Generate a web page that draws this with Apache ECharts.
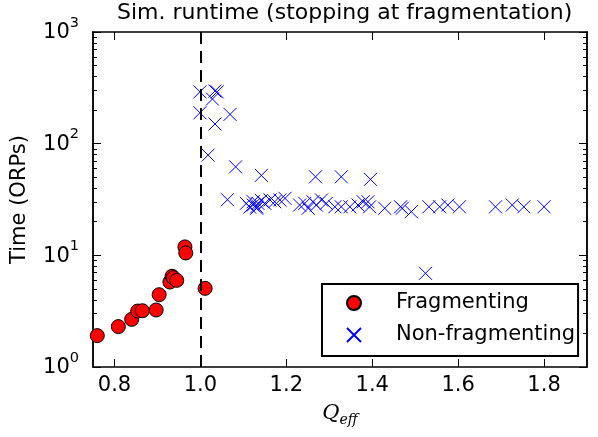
<!DOCTYPE html>
<html><head><meta charset="utf-8">
<script src="https://cdn.jsdelivr.net/npm/echarts@6/dist/echarts.min.js"></script>
<style>html,body{margin:0;padding:0;background:#fff}#c{width:598px;height:437px}</style>
</head><body><div id="c"></div>
<script>
// ---- data ----
const fragQ = [0.760, 0.809, 0.840, 0.854, 0.865, 0.897, 0.904, 0.929, 0.934, 0.937, 0.945, 0.964, 0.966, 1.011];
const fragT = [1.91, 2.30, 2.67, 3.17, 3.19, 3.24, 4.44, 5.77, 6.5, 6.3, 5.97, 11.9, 10.5, 5.06];

const nonQ = [0.999, 1.034, 1.039, 1.028, 0.999, 1.034, 1.069, 1.018, 1.082, 1.142, 1.063, 1.268, 1.328, 1.396,
  1.107, 1.115, 1.123, 1.123, 1.131, 1.131, 1.134, 1.142, 1.150, 1.162, 1.173, 1.185, 1.197, 1.231, 1.243, 1.251,
  1.262, 1.270, 1.282, 1.293, 1.313, 1.328, 1.348, 1.367, 1.379, 1.390, 1.394, 1.429, 1.466, 1.470, 1.491, 1.532,
  1.557, 1.576, 1.603, 1.687, 1.726, 1.753, 1.800, 1.524];
const nonT = [291, 296, 291, 251, 189, 150, 183, 79, 62, 52, 31.5, 50.5, 50.5, 47.9,
  29.2, 27.0, 30.2, 28.2, 27.2, 26.4, 29.2, 31.0, 29.2, 31.3, 30.2, 31.3, 32.4, 28.2, 29.2, 26.4,
  30.2, 28.2, 31.3, 29.2, 27.2, 27.2, 27.2, 28.2, 30.2, 30.2, 27.2, 26.4, 27.2, 26.4, 24.6, 27.2,
  27.2, 28.2, 27.2, 27.2, 28.2, 27.2, 27.2, 6.9];

const thresholdQ = 1.0;
const xTickValues = [0.8, 1.0, 1.2, 1.4, 1.6, 1.8];
const yMajorTicks = [1, 10, 100, 1000];
const yMinorTicks = [2, 3, 4, 5, 6, 7, 8, 9, 20, 30, 40, 50, 60, 70, 80, 90, 200, 300, 400, 500, 600, 700, 800, 900];
const titleText = 'Sim. runtime (stopping at fragmentation)';
const yTitle = 'Time (ORPs)';
const legendNames = ['Fragmenting', 'Non-fragmenting'];

// ---- chart ----
const FONT = 'DejaVu Sans';
const chart = echarts.init(document.getElementById('c'), null, {renderer: 'canvas'});
const pair = (xs, ys) => xs.map((x, i) => [x, ys[i]]);
const crossPath = 'path://M0,0L10,10M10,0L0,10';

function xAxisDef(pos, labels) {
  return {
    type: 'value', position: pos, min: 0.75, max: 1.9, gridIndex: 0,
    axisLine: {show: true, onZero: false, lineStyle: {color: '#000', width: 1.5}},
    axisTick: {show: true, inside: true, length: 8, customValues: xTickValues, lineStyle: {color: '#000', width: 1}},
    axisLabel: {show: labels, customValues: xTickValues, fontSize: 21, fontFamily: FONT, color: '#000', margin: 8,
      formatter: v => v.toFixed(1)},
    splitLine: {show: false}
  };
}
function yAxisDef(pos, ticks, len, labels) {
  return {
    type: 'log', logBase: 10, min: 1, max: 1000, position: pos, gridIndex: 0,
    axisLine: {show: true, lineStyle: {color: '#000', width: 1.5}},
    axisTick: {show: true, inside: true, length: len, customValues: ticks, lineStyle: {color: '#000', width: 1}},
    axisLabel: {show: labels, customValues: ticks, margin: 14,
      formatter: v => '{b|10}{s|' + Math.round(Math.log10(v)) + '}',
      rich: {
        b: {fontSize: 21, fontFamily: FONT, color: '#000', padding: [7, 0, 5, 0], verticalAlign: 'bottom'},
        s: {fontSize: 14.5, fontFamily: FONT, color: '#000', verticalAlign: 'top'}
      }},
    splitLine: {show: false}
  };
}

const xs = [xAxisDef('bottom', true), xAxisDef('top', false)];
xs[0].name = '{q|Q}{s|eff}';
xs[0].nameLocation = 'middle';
xs[0].nameGap = 36;
xs[0].nameTextStyle = {
  rich: {
    q: {fontSize: 21, fontFamily: 'DejaVu Serif', fontStyle: 'italic', color: '#000', verticalAlign: 'top'},
    s: {fontSize: 14, fontFamily: 'DejaVu Serif', fontStyle: 'italic', color: '#000', verticalAlign: 'bottom', padding: [10, 0, 0, 0]}
  }
};

const ys = [
  yAxisDef('left', yMajorTicks, 8, true),
  yAxisDef('left', yMinorTicks, 4, false),
  yAxisDef('right', yMajorTicks, 8, false),
  yAxisDef('right', yMinorTicks, 4, false)
];
ys[0].name = yTitle;
ys[0].nameLocation = 'middle';
ys[0].nameGap = 63;
ys[0].nameTextStyle = {fontSize: 21, fontFamily: FONT, color: '#000'};

chart.setOption({
  animation: false,
  backgroundColor: '#fff',
  title: {text: titleText, left: 117, top: 2, padding: 0,
    textStyle: {fontSize: 22, fontFamily: FONT, fontWeight: 'normal', color: '#000'}},
  grid: {left: 93, top: 32, width: 494, height: 335, containLabel: false},
  xAxis: xs,
  yAxis: ys,
  legend: {
    orient: 'vertical', left: 322, top: 284,
    borderColor: '#000', borderWidth: 2, borderRadius: 0, backgroundColor: '#fff',
    padding: [7, 3, 9, 24], itemGap: 8, itemWidth: 14, itemHeight: 14,
    textStyle: {fontSize: 21, fontFamily: FONT, color: '#000', padding: [0, 0, 0, 30], lineHeight: 24},
    data: [
      {name: legendNames[0], icon: 'circle'},
      {name: legendNames[1], icon: crossPath}
    ],
    z: 20
  },
  series: [
    {
      name: 'threshold', type: 'line', data: [], xAxisIndex: 0, yAxisIndex: 0, z: 1,
      markLine: {silent: true, symbol: ['none', 'none'], label: {show: false},
        lineStyle: {color: '#000', width: 2, type: [12, 7]},
        data: [{xAxis: thresholdQ}]}
    },
    {
      name: legendNames[1], type: 'scatter', xAxisIndex: 0, yAxisIndex: 0, z: 3,
      symbol: crossPath, symbolSize: 13,
      itemStyle: {color: 'rgba(0,0,0,0)', borderColor: '#0000ff', borderWidth: 1, opacity: 1},
      data: pair(nonQ, nonT)
    },
    {
      name: legendNames[0], type: 'scatter', xAxisIndex: 0, yAxisIndex: 0, z: 4,
      symbol: 'circle', symbolSize: 14,
      itemStyle: {color: '#ff0000', borderColor: '#000', borderWidth: 1, opacity: 1},
      data: pair(fragQ, fragT)
    }
  ]
});
</script></body></html>
